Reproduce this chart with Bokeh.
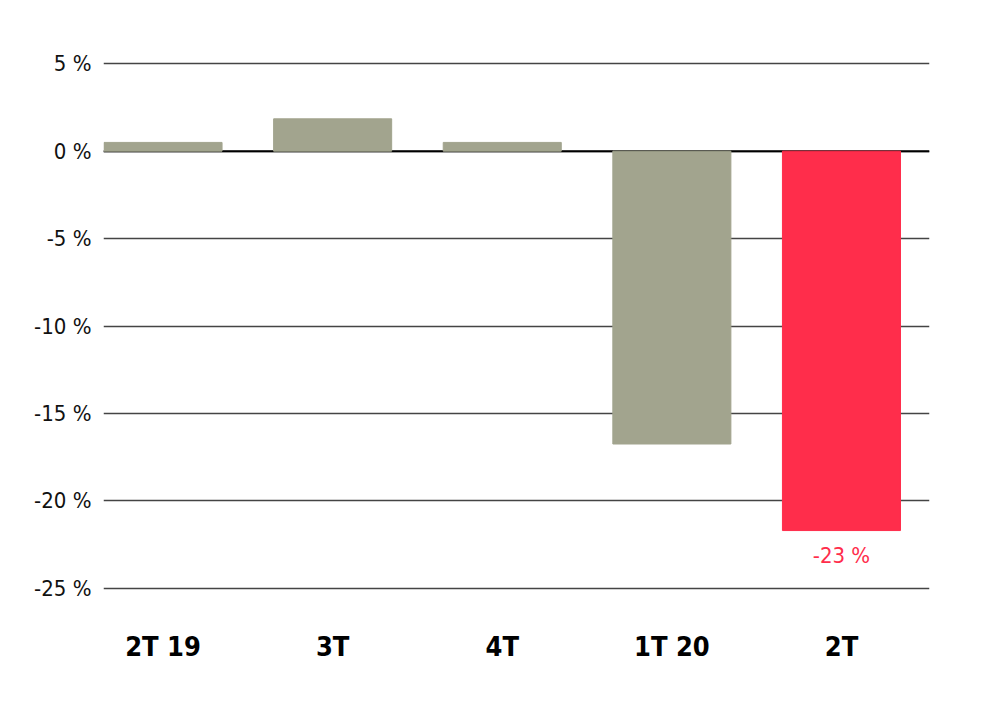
from bokeh.plotting import figure
from bokeh.models import ColumnDataSource, FixedTicker, Range1d, Span
from bokeh.embed import file_html
from bokeh.resources import INLINE
from bokeh.core.properties import value

categories = ["2T 19", "3T", "4T", "1T 20", "2T"]
values = [0.5, 1.85, 0.5, -16.75, -21.7]
colors = ["#A2A48E", "#A2A48E", "#A2A48E", "#A2A48E", "#FF2D4B"]
y_ticks = [5, 0, -5, -10, -15, -20, -25]
y_tick_labels = ["5 %", "0 %", "-5 %", "-10 %", "-15 %", "-20 %", "-25 %"]
highlight_label = "-23 %"

FONT = "DejaVu Sans Condensed"

xs = list(range(len(categories)))
src = ColumnDataSource(dict(x=xs, top=values, color=colors))

p = figure(width=988, height=693, output_backend="svg", toolbar_location=None,
           x_range=Range1d(-0.351, 4.519), y_range=Range1d(-25.3, 5.3),
           min_border_left=103, min_border_right=59, min_border_top=58, min_border_bottom=100)
p.outline_line_color = None
p.background_fill_color = "white"
p.border_fill_color = "white"

p.xgrid.visible = False
p.ygrid.ticker = FixedTicker(ticks=y_ticks)
p.ygrid.grid_line_color = "#444444"
p.ygrid.grid_line_width = 1.5

zero = Span(location=0, dimension="width", line_color="#000000", line_width=2, level="underlay")
p.add_layout(zero)

p.vbar(x="x", top="top", bottom=0, width=0.696, color="color", source=src)

p.text(x=[xs[-1]], y=[values[-1]], text=[highlight_label], text_color="#FF2D4B",
       text_font=value(FONT), text_font_size="22px",
       text_align="center", text_baseline="top", y_offset=12)

p.yaxis.ticker = FixedTicker(ticks=y_ticks)
p.yaxis.major_label_overrides = {t: l for t, l in zip(y_ticks, y_tick_labels)}
p.yaxis.axis_line_color = None
p.yaxis.major_tick_line_color = None
p.yaxis.minor_tick_line_color = None
p.yaxis.major_label_standoff = 6
p.yaxis.major_label_text_font = FONT
p.yaxis.major_label_text_font_size = "22px"
p.yaxis.major_label_text_color = "#111111"

p.xaxis.ticker = FixedTicker(ticks=xs)
p.xaxis.major_label_overrides = {x: c for x, c in zip(xs, categories)}
p.xaxis.axis_line_color = None
p.xaxis.major_tick_line_color = None
p.xaxis.minor_tick_line_color = None
p.xaxis.major_label_standoff = 31
p.xaxis.major_label_text_font = FONT
p.xaxis.major_label_text_font_style = "bold"
p.xaxis.major_label_text_font_size = "27px"
p.xaxis.major_label_text_color = "#000000"

open("out.html", "w").write(file_html(p, INLINE))
